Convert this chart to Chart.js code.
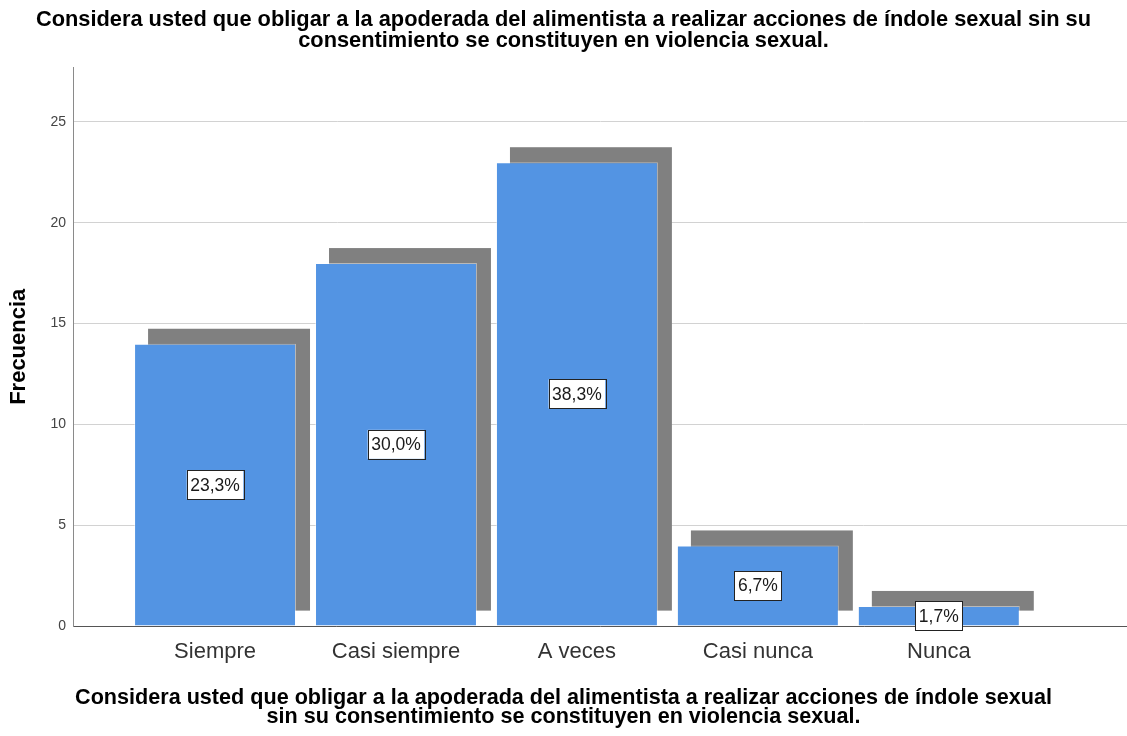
<!DOCTYPE html>
<html>
<head>
<meta charset="utf-8">
<script src="https://cdn.jsdelivr.net/npm/chart.js@4.4.1/dist/chart.umd.min.js"></script>
<style>
  html, body { margin: 0; padding: 0; background: #fff; }
  #wrap { width: 1127px; height: 736px; position: relative; }
</style>
</head>
<body>
<div id="wrap"><canvas id="freqChart"></canvas></div>
<script>
  // ---- datos ----
  const categories = ['Siempre', 'Casi siempre', 'A veces', 'Casi nunca', 'Nunca'];
  const frequencies = [14, 18, 23, 4, 1];
  const percentLabels = ['23,3%', '30,0%', '38,3%', '6,7%', '1,7%'];
  const yTicks = [0, 5, 10, 15, 20, 25];
  const titleLines = [
    'Considera usted que obligar a la apoderada del alimentista a realizar acciones de índole sexual sin su',
    'consentimiento se constituyen en violencia sexual.'
  ];
  const xTitleLines = [
    'Considera usted que obligar a la apoderada del alimentista a realizar acciones de índole sexual',
    'sin su consentimiento se constituyen en violencia sexual.'
  ];

  const FONT = "'Liberation Sans', Arial, sans-serif";

  // sombra gris desplazada detrás de cada barra (estilo SPSS)
  const shadowPlugin = {
    id: 'barShadow',
    beforeDatasetsDraw(chart) {
      const ctx = chart.ctx;
      const meta = chart.getDatasetMeta(0);
      ctx.save();
      ctx.fillStyle = '#808080';
      meta.data.forEach(function (bar) {
        const p = bar.getProps(['x', 'y', 'base', 'width'], true);
        ctx.fillRect(p.x - p.width / 2 + 14, p.y - 15, p.width, p.base - p.y);
      });
      ctx.restore();
    }
  };

  // etiquetas de porcentaje en caja blanca
  const percentPlugin = {
    id: 'percentBoxes',
    afterDatasetsDraw(chart) {
      const ctx = chart.ctx;
      const meta = chart.getDatasetMeta(0);
      ctx.save();
      ctx.font = '17.5px ' + FONT;
      ctx.textAlign = 'center';
      ctx.textBaseline = 'middle';
      meta.data.forEach(function (bar, i) {
        const p = bar.getProps(['x', 'y', 'base'], true);
        const cy = (p.y + p.base) / 2;
        const txt = percentLabels[i];
        const w = ctx.measureText(txt).width + 7;
        const h = 29;
        ctx.fillStyle = '#ffffff';
        ctx.fillRect(p.x - w / 2, cy - h / 2, w, h);
        ctx.strokeStyle = '#222222';
        ctx.lineWidth = 1;
        ctx.strokeRect(Math.round(p.x - w / 2) + 0.5, Math.round(cy - h / 2) + 0.5, Math.round(w), h);
        ctx.fillStyle = '#1a1a1a';
        ctx.fillText(txt, p.x, cy + 1);
      });
      ctx.restore();
    }
  };

  new Chart(document.getElementById('freqChart'), {
    type: 'bar',
    data: {
      datasets: [{
        data: categories.map(function (c, i) { return { x: i, y: frequencies[i] }; }),
        backgroundColor: '#5394E3',
        borderColor: 'rgba(255,255,255,0.45)',
        borderWidth: 1,
        barPercentage: 1,
        categoryPercentage: 0.895
      }]
    },
    options: {
      responsive: true,
      maintainAspectRatio: false,
      animation: false,
      layout: { padding: 0 },
      plugins: {
        legend: { display: false },
        tooltip: { enabled: false },
        title: {
          display: true,
          text: titleLines,
          color: '#000',
          font: { family: FONT, size: 21.8, weight: 'bold', lineHeight: 0.95 },
          padding: { top: 10, bottom: 16 }
        },
        subtitle: {
          display: true,
          position: 'bottom',
          text: xTitleLines,
          color: '#000',
          font: { family: FONT, size: 21.6, weight: 'bold', lineHeight: 0.9 },
          padding: { top: 0, bottom: 9 }
        }
      },
      scales: {
        x: {
          type: 'linear',
          offset: false,
          min: -0.785,
          max: 5.04,
          afterBuildTicks: function (scale) {
            scale.ticks = categories.map(function (c, i) { return { value: i }; });
          },
          afterFit: function (scale) { scale.height = 62; },
          grid: { display: false, drawTicks: false, offset: false },
          border: { display: true, color: '#555555' },
          ticks: {
            color: '#333',
            font: { family: FONT, size: 22 },
            padding: 13,
            maxRotation: 0,
            callback: function (v) { return categories[v]; }
          }
        },
        y: {
          min: 0,
          max: 27.7,
          afterBuildTicks: function (scale) {
            scale.ticks = yTicks.map(function (v) { return { value: v }; });
          },
          afterFit: function (scale) { scale.width = 73; },
          grid: { color: '#d2d2d2', drawTicks: false },
          border: { display: true, color: '#8a8a8a' },
          ticks: {
            color: '#444',
            font: { family: FONT, size: 14 },
            padding: 7
          },
          title: {
            display: true,
            text: 'Frecuencia',
            color: '#000',
            font: { family: FONT, size: 22, weight: 'bold' },
            padding: { top: 6, bottom: 0 }
          }
        }
      }
    },
    plugins: [shadowPlugin, percentPlugin]
  });
</script>
</body>
</html>
